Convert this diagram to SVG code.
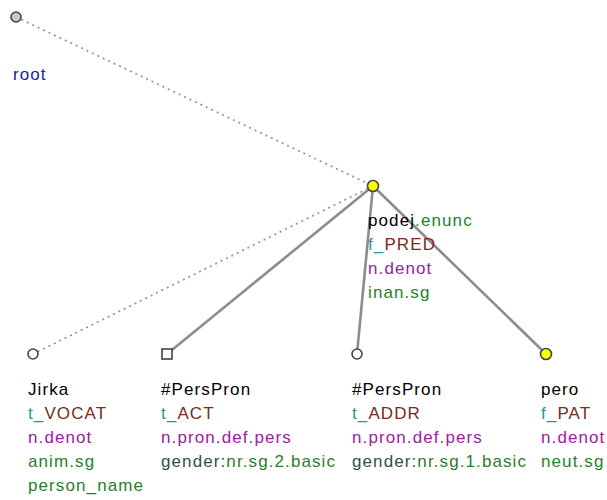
<svg xmlns="http://www.w3.org/2000/svg" width="607" height="500" viewBox="0 0 607 500">
<style>
text{font-family:"Liberation Sans",Arial,sans-serif;font-size:17px;letter-spacing:1.1px}
.lem{fill:#000}
.tf{fill:#1e9a9a}
.fn{fill:#7a2a1a}
.nt{fill:#a020a0}
.gr{fill:#2a7f2a}
.gk{fill:#2f4f4f}
.rt{fill:#1a1aa0}
.dot{stroke:#999;stroke-width:1.8;stroke-dasharray:2 4;fill:none}
.sol{stroke:#8c8c8c;stroke-width:2.6;fill:none}
.nd{stroke:#444;stroke-width:1.6}
</style>
<rect width="607" height="500" fill="#fff"/>
<g id="connectors">
<line class="dot" x1="16" y1="17" x2="373" y2="186"/>
<line class="dot" x1="373" y1="186" x2="33" y2="354"/>
<line class="sol" x1="373" y1="186" x2="167" y2="354"/>
<line class="sol" x1="373" y1="186" x2="357" y2="354"/>
<line class="sol" x1="373" y1="186" x2="546" y2="354"/>
</g>
<g id="root">
<circle class="nd" cx="16" cy="17" r="5" fill="#c8c8c8"/>
<text x="13" y="80" class="rt">root</text>
</g>
<g id="podej">
<circle class="nd" cx="373" cy="186" r="5.5" fill="#ffff00"/>
<text x="368" y="226"><tspan class="lem">podej</tspan><tspan class="gr">.enunc</tspan></text>
<text x="368" y="250"><tspan class="tf">f_</tspan><tspan class="fn">PRED</tspan></text>
<text x="368" y="274" class="nt">n.denot</text>
<text x="368" y="298" class="gr">inan.sg</text>
</g>
<g id="jirka">
<circle class="nd" cx="33" cy="354" r="5" fill="#fff"/>
<text x="28" y="395" class="lem">Jirka</text>
<text x="28" y="419"><tspan class="tf">t_</tspan><tspan class="fn">VOCAT</tspan></text>
<text x="28" y="443" class="nt">n.denot</text>
<text x="28" y="467" class="gr">anim.sg</text>
<text x="28" y="491" class="gr">person_name</text>
</g>
<g id="perspron1">
<rect class="nd" x="162" y="349" width="10" height="10" fill="#fff"/>
<text x="161" y="395" class="lem">#PersPron</text>
<text x="161" y="419"><tspan class="tf">t_</tspan><tspan class="fn">ACT</tspan></text>
<text x="161" y="443" class="nt">n.pron.def.pers</text>
<text x="161" y="467"><tspan class="gk">gender:</tspan><tspan class="gr">nr.sg.2.basic</tspan></text>
</g>
<g id="perspron2">
<circle class="nd" cx="357" cy="354" r="5" fill="#fff"/>
<text x="352" y="395" class="lem">#PersPron</text>
<text x="352" y="419"><tspan class="tf">t_</tspan><tspan class="fn">ADDR</tspan></text>
<text x="352" y="443" class="nt">n.pron.def.pers</text>
<text x="352" y="467"><tspan class="gk">gender:</tspan><tspan class="gr">nr.sg.1.basic</tspan></text>
</g>
<g id="pero">
<circle class="nd" cx="546" cy="354" r="5.5" fill="#ffff00"/>
<text x="541" y="395" class="lem">pero</text>
<text x="541" y="419"><tspan class="tf">f_</tspan><tspan class="fn">PAT</tspan></text>
<text x="541" y="443" class="nt">n.denot</text>
<text x="541" y="467" class="gr">neut.sg</text>
</g>
</svg>
